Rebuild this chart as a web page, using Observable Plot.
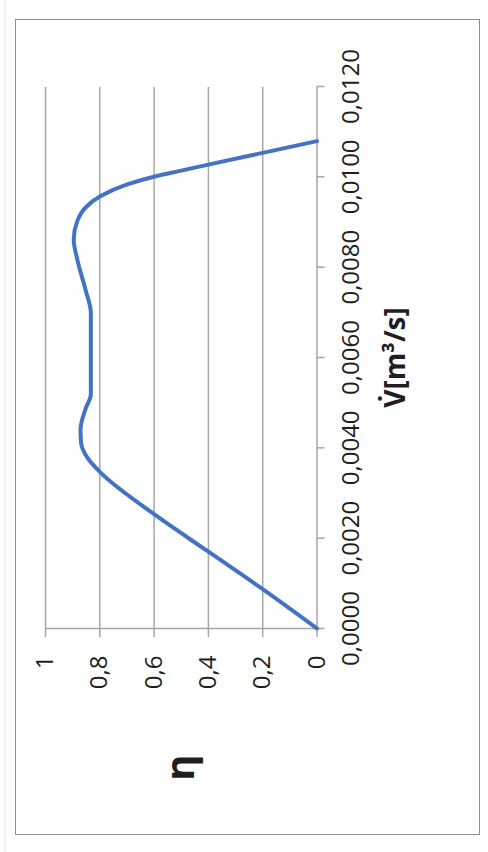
<!DOCTYPE html>
<html>
<head>
<meta charset="utf-8">
<script src="https://cdn.jsdelivr.net/npm/d3@7"></script>
<script src="https://cdn.jsdelivr.net/npm/@observablehq/plot@0.6"></script>
<style>
html, body { margin: 0; padding: 0; width: 488px; height: 852px; overflow: hidden; background: #fff; }
#wrap { position: absolute; left: 0; top: 852px; width: 852px; height: 488px; transform-origin: 0 0; transform: rotate(-90deg); }
#wrap svg { position: absolute; left: 0; top: 0; }
#border { position: absolute; left: 17px; top: 15px; width: 814px; height: 463px; border: 1px solid #8c8c8c; }
#edge { position: absolute; left: 0; top: 4px; width: 852px; height: 2px; background: #f0f0f0; }
</style>
</head>
<body>
<div id="wrap"><div id="edge"></div><div id="border"></div></div>
<script>
// Volume flow V [m³/s] and efficiency η
const flowV = [0, 0.00087, 0.0017, 0.00253, 0.003452, 0.003784, 0.004116, 0.00441, 0.004853, 0.005185, 0.006993, 0.007508, 0.008172, 0.008614, 0.00902, 0.009316, 0.009573, 0.009832, 0.010002, 0.010126, 0.01027, 0.01053, 0.01079];
const effEta = [0, 0.2, 0.4, 0.6, 0.797, 0.846, 0.869, 0.871, 0.853, 0.833, 0.833, 0.853, 0.883, 0.896, 0.883, 0.853, 0.797, 0.699, 0.601, 0.509, 0.40, 0.20, 0];

const vTicks = [0, 0.002, 0.004, 0.006, 0.008, 0.010, 0.012];
const vTickLabels = ["0,0000", "0,0020", "0,0040", "0,0060", "0,0080", "0,0100", "0,0120"];
const etaTicks = [0, 0.2, 0.4, 0.6, 0.8, 1];
const etaTickLabels = ["0", "0,2", "0,4", "0,6", "0,8", "1"];
const etaGrid = [0.2, 0.4, 0.6, 0.8, 1];
const xTitle = "V\u0307[m³/s]";
const yTitle = "η";

const data = flowV.map((v, i) => ({V: v, eta: effEta[i]}));
const gridColor = "#a6a6a6";
const textColor = "#1f1f1f";

const chart = Plot.plot({
  width: 852,
  height: 488,
  marginLeft: 223,
  marginRight: 87,
  marginTop: 45,
  marginBottom: 171.5,
  x: {domain: [0, 0.012]},
  y: {domain: [0, 1]},
  style: {fontFamily: "'Open Sans', sans-serif", fontSize: "24px", color: textColor, background: "transparent", overflow: "visible"},
  marks: [
    Plot.gridY(etaGrid, {stroke: gridColor, strokeOpacity: 1, strokeWidth: 1.5}),
    Plot.ruleY([0], {stroke: gridColor, strokeWidth: 1.5}),
    Plot.ruleX([0], {stroke: gridColor, strokeWidth: 1.5}),
    Plot.axisX({ticks: vTicks, tickFormat: d => vTickLabels[vTicks.indexOf(d)], tickSize: 8, tickPadding: 17, stroke: gridColor, strokeWidth: 1.5, fill: textColor, label: null, fontSize: 24}),
    Plot.axisY({ticks: etaTicks, tickFormat: d => etaTickLabels[etaTicks.indexOf(d)], tickSize: 8, tickPadding: 19, stroke: gridColor, strokeWidth: 1.5, fill: textColor, label: null, fontSize: 24}),
    Plot.line(data, {x: "V", y: "eta", curve: "monotone-x", stroke: "#4472c4", strokeWidth: 4}),
    Plot.text([yTitle], {frameAnchor: "left", dx: -139, textAnchor: "middle", lineAnchor: "middle", fontWeight: "bold", fontSize: 40, fill: textColor}),
    Plot.text([xTitle], {frameAnchor: "bottom", dy: 87.5, textAnchor: "middle", lineAnchor: "bottom", fontWeight: "bold", fontSize: 28, fill: textColor})
  ]
});
document.getElementById("wrap").appendChild(chart);
</script>
</body>
</html>
